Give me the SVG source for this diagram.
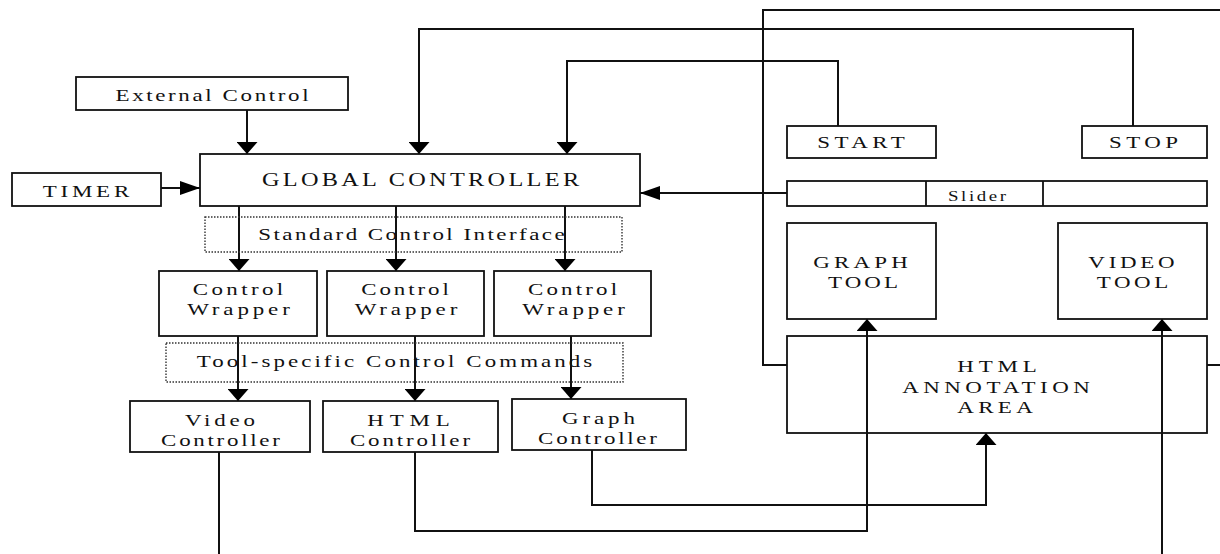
<svg xmlns="http://www.w3.org/2000/svg" width="1220" height="554" viewBox="0 0 1220 554">
  <style>
    .box { fill: #fff; stroke: #111; stroke-width: 1.8; }
    .dot { fill: none; stroke: #333; stroke-width: 1.4; stroke-dasharray: 1.5 1.5; }
    .wire { fill: none; stroke: #111; stroke-width: 2; }
    text { font-family: "Liberation Serif", "Times New Roman", serif; font-size: 17px; fill: #111; text-anchor: middle; }
    .big { font-size: 18px; }
    .small { font-size: 14px; }
  </style>
  <defs>
    <!-- vertical heads: short and broad -->
    <marker id="ahV" markerUnits="userSpaceOnUse" viewBox="0 0 12 21" markerWidth="12" markerHeight="21" refX="12" refY="10.5" orient="auto">
      <path d="M0,0 L12,10.5 L0,21 z" fill="#000"/>
    </marker>
    <!-- horizontal heads: long and narrow -->
    <marker id="ahH" markerUnits="userSpaceOnUse" viewBox="0 0 20 14" markerWidth="20" markerHeight="14" refX="20" refY="7" orient="auto">
      <path d="M0,0 L20,7 L0,14 z" fill="#000"/>
    </marker>
  </defs>

  <rect width="1220" height="554" fill="#fff"/>

  <!-- connectors -->
  <g id="connectors">
    <path class="wire" d="M1220,10 H763 V365 H787"/>
    <path class="wire" d="M1207,365 H1220"/>
    <path class="wire" d="M247,110 V154" marker-end="url(#ahV)"/>
    <path class="wire" d="M161,188 H200" marker-end="url(#ahH)"/>
    <path class="wire" d="M1133,126 V29 H419 V154" marker-end="url(#ahV)"/>
    <path class="wire" d="M838,126 V61 H567 V154" marker-end="url(#ahV)"/>
    <path class="wire" d="M787,193 H640" marker-end="url(#ahH)"/>
    <path class="wire" d="M239,206 V271" marker-end="url(#ahV)"/>
    <path class="wire" d="M396,206 V271" marker-end="url(#ahV)"/>
    <path class="wire" d="M565,206 V271" marker-end="url(#ahV)"/>
    <path class="wire" d="M238,336 V401" marker-end="url(#ahV)"/>
    <path class="wire" d="M415,336 V401" marker-end="url(#ahV)"/>
    <path class="wire" d="M571,336 V399" marker-end="url(#ahV)"/>
    <path class="wire" d="M219,452 V554"/>
    <path class="wire" d="M415,452 V531 H867 V319" marker-end="url(#ahV)"/>
    <path class="wire" d="M592,450 V505 H986 V433" marker-end="url(#ahV)"/>
    <path class="wire" d="M1162,554 V319" marker-end="url(#ahV)"/>
  </g>

  <!-- labels are widened 1.35x; textLength is given in the unscaled units -->
  <g id="external-control">
    <rect class="box" x="76" y="77" width="272" height="33"/>
    <text transform="translate(212,101) scale(1.35,1)" textLength="143" lengthAdjust="spacing">External Control</text>
  </g>

  <g id="timer">
    <rect class="box" x="12" y="173" width="149" height="33"/>
    <text transform="translate(86,197) scale(1.35,1)" textLength="64" lengthAdjust="spacing">TIMER</text>
  </g>

  <g id="global-controller">
    <rect class="box" x="200" y="154" width="440" height="52" style="fill:none"/>
    <text class="big" transform="translate(420.5,186) scale(1.35,1)" textLength="235" lengthAdjust="spacing">GLOBAL CONTROLLER</text>
  </g>

  <g id="standard-control-interface">
    <rect class="dot" x="205" y="217" width="417" height="35"/>
    <text transform="translate(411.5,240) scale(1.35,1)" textLength="227" lengthAdjust="spacing">Standard Control Interface</text>
  </g>

  <g id="control-wrapper-1">
    <rect class="box" x="159" y="271" width="158" height="65"/>
    <text transform="translate(238,295) scale(1.35,1)" textLength="67" lengthAdjust="spacing">Control</text>
    <text transform="translate(238.5,315) scale(1.35,1)" textLength="76" lengthAdjust="spacing">Wrapper</text>
  </g>

  <g id="control-wrapper-2">
    <rect class="box" x="327" y="271" width="157" height="65"/>
    <text transform="translate(405,295) scale(1.35,1)" textLength="65" lengthAdjust="spacing">Control</text>
    <text transform="translate(406,315) scale(1.35,1)" textLength="76" lengthAdjust="spacing">Wrapper</text>
  </g>

  <g id="control-wrapper-3">
    <rect class="box" x="494" y="271" width="157" height="65"/>
    <text transform="translate(572.5,295) scale(1.35,1)" textLength="66" lengthAdjust="spacing">Control</text>
    <text transform="translate(573.5,315) scale(1.35,1)" textLength="76" lengthAdjust="spacing">Wrapper</text>
  </g>

  <g id="tool-specific-commands">
    <rect class="dot" x="166" y="343" width="457" height="39"/>
    <text transform="translate(394.5,367) scale(1.35,1)" textLength="293" lengthAdjust="spacing">Tool-specific Control Commands</text>
  </g>

  <g id="video-controller">
    <rect class="box" x="130" y="401" width="180" height="51"/>
    <text transform="translate(220,426) scale(1.35,1)" textLength="52" lengthAdjust="spacing">Video</text>
    <text transform="translate(220.5,446) scale(1.35,1)" textLength="88" lengthAdjust="spacing">Controller</text>
  </g>

  <g id="html-controller">
    <rect class="box" x="323" y="401" width="175" height="51"/>
    <text transform="translate(408.5,426) scale(1.35,1)" textLength="61" lengthAdjust="spacing">HTML</text>
    <text transform="translate(410,446) scale(1.35,1)" textLength="89" lengthAdjust="spacing">Controller</text>
  </g>

  <g id="graph-controller">
    <rect class="box" x="512" y="399" width="174" height="51"/>
    <text transform="translate(598.5,424) scale(1.35,1)" textLength="54" lengthAdjust="spacing">Graph</text>
    <text transform="translate(597.5,444) scale(1.35,1)" textLength="88" lengthAdjust="spacing">Controller</text>
  </g>

  <g id="start">
    <rect class="box" x="787" y="126" width="149" height="32"/>
    <text transform="translate(861,148) scale(1.35,1)" textLength="65" lengthAdjust="spacing">START</text>
  </g>

  <g id="stop">
    <rect class="box" x="1082" y="126" width="125" height="32"/>
    <text transform="translate(1143.5,148) scale(1.35,1)" textLength="51" lengthAdjust="spacing">STOP</text>
  </g>

  <g id="slider">
    <rect class="box" x="787" y="181" width="420" height="25"/>
    <path class="box" d="M926,181 V206 M1043,181 V206"/>
    <text class="small" transform="translate(977,201) scale(1.35,1)" textLength="43" lengthAdjust="spacing">Slider</text>
  </g>

  <g id="graph-tool">
    <rect class="box" x="787" y="223" width="149" height="96"/>
    <text transform="translate(860.5,268) scale(1.35,1)" textLength="70" lengthAdjust="spacing">GRAPH</text>
    <text transform="translate(863,288) scale(1.35,1)" textLength="52" lengthAdjust="spacing">TOOL</text>
  </g>

  <g id="video-tool">
    <rect class="box" x="1058" y="223" width="149" height="96"/>
    <text transform="translate(1131.5,268) scale(1.35,1)" textLength="64" lengthAdjust="spacing">VIDEO</text>
    <text transform="translate(1132.5,288) scale(1.35,1)" textLength="53" lengthAdjust="spacing">TOOL</text>
  </g>

  <g id="html-annotation-area">
    <rect class="box" x="787" y="336" width="420" height="97" style="fill:none"/>
    <text transform="translate(997,372) scale(1.35,1)" textLength="59" lengthAdjust="spacing">HTML</text>
    <text transform="translate(996,393) scale(1.35,1)" textLength="139" lengthAdjust="spacing">ANNOTATION</text>
    <text transform="translate(995,413) scale(1.35,1)" textLength="56" lengthAdjust="spacing">AREA</text>
  </g>
</svg>
